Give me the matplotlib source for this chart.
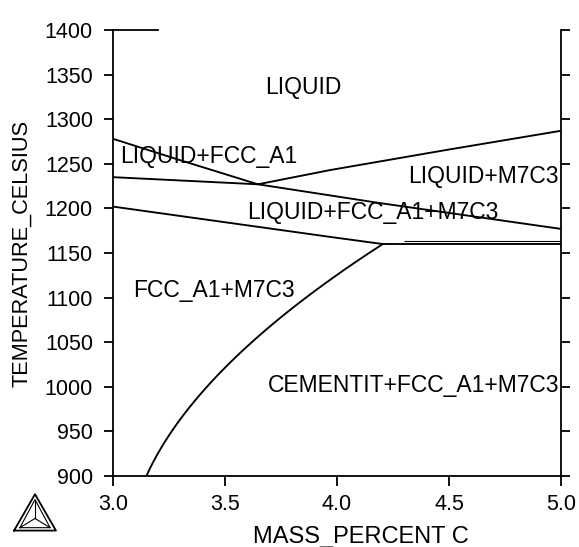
import numpy as np
import matplotlib.pyplot as plt

plt.rcParams['font.family'] = ['Liberation Sans', 'DejaVu Sans']

# phase boundaries (mass percent C, temperature in C)
liq_fcc_x = [3.0, 3.30, 3.647]
liq_fcc_t = [1278, 1254, 1227]

liq_m7c3_x = [3.647, 3.97, 4.50, 5.0]
liq_m7c3_t = [1227, 1243, 1266, 1287]

three_phase_top_x = [3.0, 3.647, 4.19, 5.0]
three_phase_top_t = [1235, 1227, 1206, 1177]

solidus_x = [3.0, 3.97, 4.205]
solidus_t = [1202, 1168, 1160]

eutectic_x = [4.205, 5.0]
eutectic_t = [1160, 1160]
eutectic2_x = [4.30, 5.0]
eutectic2_t = [1163.5, 1163.5]

cementite_x = [3.147, 3.33, 3.48, 3.625, 3.78, 3.92, 4.03, 4.205]
cementite_t = [900, 970, 1020, 1052, 1082, 1110, 1132, 1160]

# region labels: text, left x, baseline temperature
labels = ["LIQUID", "LIQUID+FCC_A1", "LIQUID+M7C3", "LIQUID+FCC_A1+M7C3",
          "FCC_A1+M7C3", "CEMENTIT+FCC_A1+M7C3"]
label_x = [3.679, 3.031, 4.317, 3.598, 3.089, 3.692]
label_t = [1328, 1251, 1228, 1188, 1101, 994]

xticks = [3.0, 3.5, 4.0, 4.5, 5.0]
yticks = list(range(900, 1401, 50))

fig = plt.figure(figsize=(5.79, 5.47), dpi=100)
ax = fig.add_axes([0.1952, 0.1298, 0.7737, 0.8154])

lw = 1.35
for xs, ts in [(liq_fcc_x, liq_fcc_t), (liq_m7c3_x, liq_m7c3_t),
               (three_phase_top_x, three_phase_top_t), (solidus_x, solidus_t),
               (eutectic_x, eutectic_t)]:
    ax.plot(xs, ts, color='black', lw=lw, solid_capstyle='butt')
ax.plot(eutectic2_x, eutectic2_t, color='black', lw=0.8, solid_capstyle='butt')

# smooth the cementite curve a little
cx = np.array(cementite_x)
ct = np.array(cementite_t)
coef = np.polyfit(ct, cx, 3)
tt = np.linspace(ct[0], ct[-1], 200)
ax.plot(np.polyval(coef, tt), tt, color='black', lw=lw)

for s, x, t in zip(labels, label_x, label_t):
    ax.text(x, t, s, fontsize=16.5, ha='left', va='baseline', color='black')

ax.set_xlim(3.0, 5.0)
ax.set_ylim(900, 1400)
ax.set_xticks(xticks)
ax.set_xticklabels([f"{v:.1f}" for v in xticks])
ax.set_yticks(yticks)

ax.spines['top'].set_bounds(3.0, 3.2)
for sp in ax.spines.values():
    sp.set_linewidth(1.3)

ax.tick_params(axis='y', which='both', direction='out', length=6.5, width=1.3,
               labelsize=15.5, pad=8, right=True)
ax.tick_params(axis='x', direction='out', length=7, width=1.3,
               labelsize=15.5, pad=6)

fig.text(361 / 579, 1 - 537 / 547, "MASS_PERCENT C", fontsize=17,
         ha='center', va='center')
fig.text(22 / 579, 1 - 253 / 547, "TEMPERATURE_CELSIUS", fontsize=15.7,
         ha='center', va='center', rotation=90)

# Thermo-Calc style logo
lax = fig.add_axes([13 / 579, 1 - 533 / 547, 44 / 579, 40 / 547])
lax.set_xlim(-1.05, 1.05)
lax.set_ylim(-0.6, 1.05)
lax.axis('off')
outer = np.array([[-1, -0.5], [1, -0.5], [0, 1.0], [-1, -0.5]])
inner = np.array([[-0.72, -0.38], [0.72, -0.38], [0, 0.78], [-0.72, -0.38]])
lax.plot(outer[:, 0], outer[:, 1], color='black', lw=1.3)
lax.plot(inner[:, 0], inner[:, 1], color='black', lw=0.8)
for vx, vy in inner[:3]:
    lax.plot([0, vx], [0.0, vy], color='black', lw=0.8)

fig.savefig("out.png", dpi=100)
